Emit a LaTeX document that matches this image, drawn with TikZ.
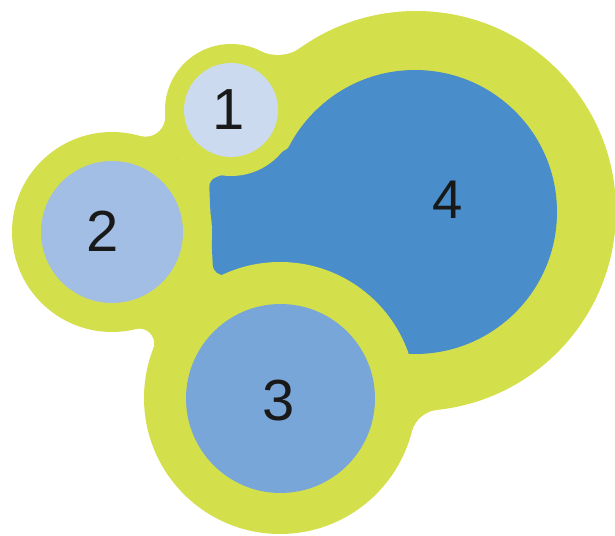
\documentclass[tikz,border=0pt]{standalone}
\usepackage{fontspec}
\setmainfont{Liberation Sans}
\usepackage{tikz}
\usetikzlibrary{positioning}
\definecolor{limegreen}{HTML}{D4DF4C}
\definecolor{deepblue}{HTML}{4A8DCB}
\definecolor{paleblue}{HTML}{CCDAF0}
\definecolor{softblue}{HTML}{A2BEE4}
\definecolor{midblue}{HTML}{79A6D8}
\tikzset{
  ring/.style={fill=limegreen},
  notch/.style={fill=white},
  disc/.style={circle, draw=none, inner sep=0pt},
  num/.style={inner sep=0pt, text=black!90, font=\fontsize{33}{40}\selectfont},
}

\begin{document}
\begin{tikzpicture}[x=0.02cm, y=-0.02cm]
    \useasboundingbox (0,0) rectangle (615,536);
    % yellow backing and the webs between the rings
    \fill[ring] (231,110) -- (112,232) -- (280,398) -- (416,211) -- cycle;
    \fill[ring] (231,110) -- (260.1,50.8) -- (300.7,47.6) -- (416,211) -- cycle;
    \fill[ring] (231,110) -- (165.2,115.1) -- (139.7,135.9) -- (112,232) -- cycle;
    \fill[ring] (112,232) -- (135.6,329.1) -- (153.1,349.1) -- (280,398) -- cycle;
    \fill[ring] (280,398) -- (411.7,432.2) -- (437.5,409.9) -- (416,211) -- cycle;
    \fill[notch] (277.7,14.9) circle (40);
    \fill[notch] (145.2,116.7) circle (20);
    \fill[notch] (139.1,343.7) circle (15);
    \fill[notch] (440.7,439.7) circle (30);
    \fill[ring] (416,211) circle (200);
    % region 4
    \fill[deepblue] (415,212) circle (142);
    \fill[deepblue, rounded corners=4pt] (209,180) -- (287,150) -- (335,100) -- (415,212) -- (400,335) -- (213,272) -- cycle;
    \fill[ring] (231,110) circle (66);
    \fill[ring] (112,232) circle (100);
    \fill[ring] (280,398) circle (136);

    \node[disc, fill=paleblue, minimum size=1.88cm] (c1) at (231,110) {};
    \node[disc, fill=softblue, minimum size=2.84cm] (c2) at (112,232) {};
    \node[disc, fill=midblue, minimum size=3.78cm] (c3) at (280.5,398.5) {};
    \node[num] (n1) at (229,110) {1};
    \node[num] (n2) at (103,231) {2};
    \node[num] (n3) at (279,401) {3};
    \node[num, font=\fontsize{31}{37}\selectfont] (n4) at (448,200) {4};
\end{tikzpicture}
\end{document}
